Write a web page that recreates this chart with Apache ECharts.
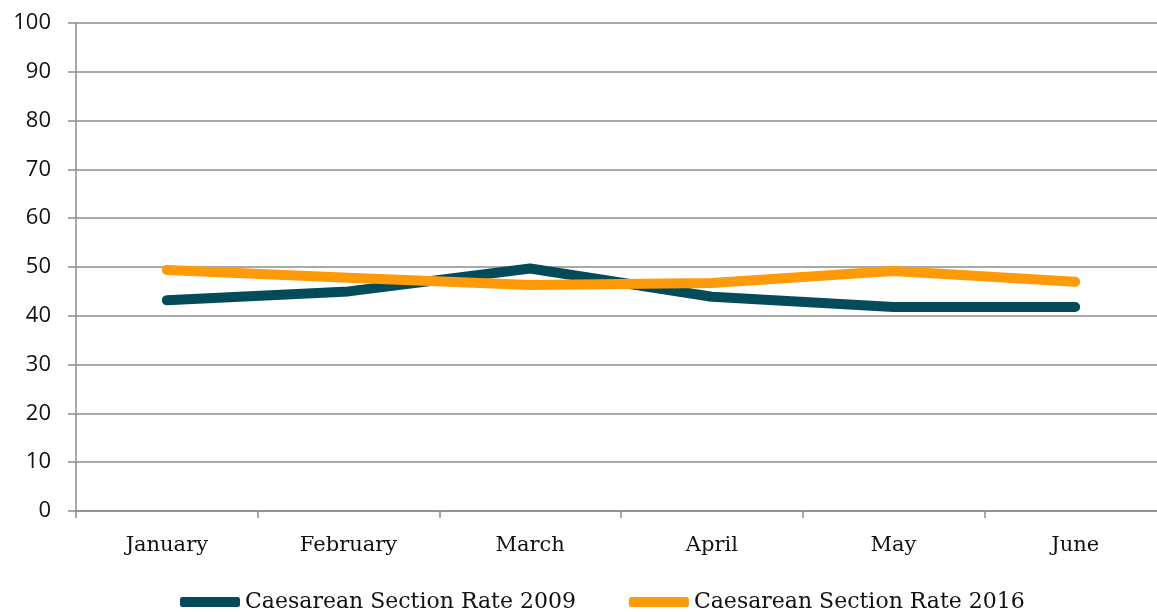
<!DOCTYPE html>
<html>
<head>
<meta charset="utf-8">
<script src="https://cdn.jsdelivr.net/npm/echarts@6/dist/echarts.min.js"></script>
<style>
  html, body { margin: 0; padding: 0; background: #fff; overflow: hidden; }
  #main { width: 1166px; height: 612px; }
</style>
</head>
<body>
<div id="main"></div>
<script>
  var months = ['January', 'February', 'March', 'April', 'May', 'June']
  var rate2009 = [43.2, 45.0, 49.7, 43.9, 41.8, 41.8]
  var rate2016 = [49.4, 47.8, 46.3, 46.7, 49.2, 47.0]
  var seriesNames = ['Caesarean Section Rate 2009', 'Caesarean Section Rate 2016']

  // plot runs past the right edge of the window, like the original picture
  var myChart = echarts.init(document.getElementById('main'))
  var serif = 'DejaVu Serif'
  var gray = '#8c8c8c'

  const option = {
    animation: false,
    grid: { left: 76, top: 23, right: 0, height: 488 },
    legend: {
      bottom: -6,
      left: 175,
      itemWidth: 60,
      itemHeight: 10,
      itemGap: 53,
      icon: 'roundRect',
      textStyle: { fontFamily: serif, fontSize: 22, color: '#111' },
      data: seriesNames
    },
    xAxis: {
      type: 'category',
      data: months,
      boundaryGap: true,
      axisLine: { lineStyle: { color: gray, width: 1.5 } },
      axisTick: { show: true, length: 7, lineStyle: { color: gray, width: 1.5 } },
      axisLabel: { margin: 24, fontFamily: serif, fontSize: 21, color: '#111' }
    },
    yAxis: {
      type: 'value',
      min: 0,
      max: 100,
      interval: 10,
      axisLine: { show: true, lineStyle: { color: gray, width: 1.5 } },
      axisTick: { show: true, length: 8, lineStyle: { color: gray, width: 1.5 } },
      axisLabel: { margin: 25, fontFamily: 'Open Sans', fontSize: 22, color: '#111' },
      splitLine: { lineStyle: { color: gray, width: 1.5 } }
    },
    series: [
      {
        name: seriesNames[0],
        type: 'line',
        data: rate2009,
        symbol: 'none',
        color: '#034b5b',
        lineStyle: { width: 10, cap: 'round', join: 'round' }
      },
      {
        name: seriesNames[1],
        type: 'line',
        data: rate2016,
        symbol: 'none',
        color: '#ff9a08',
        lineStyle: { width: 10, cap: 'round', join: 'round' }
      }
    ]
  }

  myChart.setOption(option)
</script>
</body>
</html>
